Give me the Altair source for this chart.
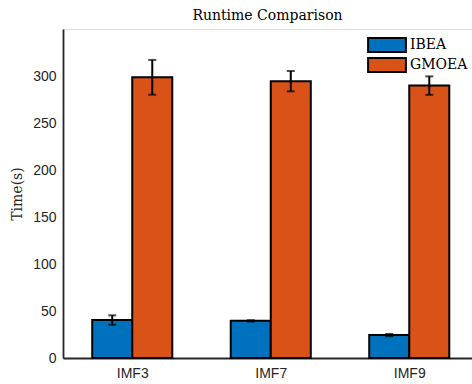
import altair as alt
import pandas as pd

categories = ["IMF3", "IMF7", "IMF9"]
algorithms = ["IBEA", "GMOEA"]
ibea_mean = [40.4, 39.5, 24.4]
ibea_err = [5.0, 0.7, 1.2]
gmoea_mean = [298.6, 294.5, 289.8]
gmoea_err = [18.5, 10.8, 9.8]
colors = ["#0072BD", "#D95319"]

BAR_W = 0.289
rows = []
for i, cat in enumerate(categories):
    g = i + 1
    for j, (alg, m, e) in enumerate([("IBEA", ibea_mean[i], ibea_err[i]),
                                      ("GMOEA", gmoea_mean[i], gmoea_err[i])]):
        left = g - BAR_W + j * BAR_W
        rows.append({"cat": cat, "alg": alg, "x": left, "x2": left + BAR_W,
                     "xc": left + BAR_W / 2, "mean": m, "lo": m - e, "hi": m + e})
df = pd.DataFrame(rows)

label_expr = " : ".join(
    [f"datum.value == {i + 1} ? '{c}'" for i, c in enumerate(categories)]) + " : ''"

SERIF = "DejaVu Serif"
SANS = "Liberation Sans"

xscale = alt.Scale(domain=[0.5, 3.453], nice=False, zero=False)
yscale = alt.Scale(domain=[0, 350], nice=False)

bars = alt.Chart(df).mark_bar(stroke="black", strokeWidth=2, opacity=1).encode(
    x=alt.X("x:Q", scale=xscale,
            axis=alt.Axis(values=[1, 2, 3], labelExpr=label_expr, title=None,
                          ticks=False, grid=False, labelFont=SANS,
                          labelFontSize=14, labelColor="#262626", labelPadding=8,
                          domainColor="#262626", domainWidth=1.8)),
    x2="x2:Q",
    y=alt.Y("mean:Q", scale=yscale,
            axis=alt.Axis(values=[0, 50, 100, 150, 200, 250, 300], title="Time(s)",
                          ticks=False, grid=False, labelFont=SANS,
                          labelFontSize=14, labelColor="#262626", labelPadding=7,
                          titleFont=SERIF, titleFontSize=14,
                          titleFontWeight="normal", titleColor="#262626",
                          titlePadding=8,
                          domainColor="#262626", domainWidth=1.8)),
    y2=alt.datum(0),
    color=alt.Color("alg:N", scale=alt.Scale(domain=algorithms, range=colors),
                    legend=alt.Legend(title=None, orient="none", legendX=316,
                                      legendY=8,
                                      symbolType="M-2.7,-1H2.7V1H-2.7Z",
                                      symbolSize=196, symbolStrokeColor="black",
                                      symbolStrokeWidth=2, symbolOpacity=1,
                                      labelFont=SERIF, labelFontSize=14,
                                      labelColor="black", rowPadding=-2,
                                      labelOffset=15)),
)

errs = alt.Chart(df).mark_errorbar(
    color="black", thickness=2,
    ticks=alt.TickConfig(size=8, thickness=2, color="black"),
).encode(
    x=alt.X("xc:Q", scale=xscale),
    y=alt.Y("lo:Q", scale=yscale, title="Time(s)"),
    y2="hi:Q",
)

chart = alt.layer(bars, errs).properties(
    width=409, height=329,
    title=alt.TitleParams("Runtime Comparison", font=SERIF,
                          fontSize=14, fontWeight="normal", color="black",
                          anchor="middle", offset=6),
    autosize=alt.AutoSizeParams(type="none"),
    padding={"left": 63, "top": 29, "right": 0, "bottom": 26},
).configure_view(stroke=None).configure(background="white")

chart.save("out.html", embed_options={"renderer": "svg", "actions": False})
